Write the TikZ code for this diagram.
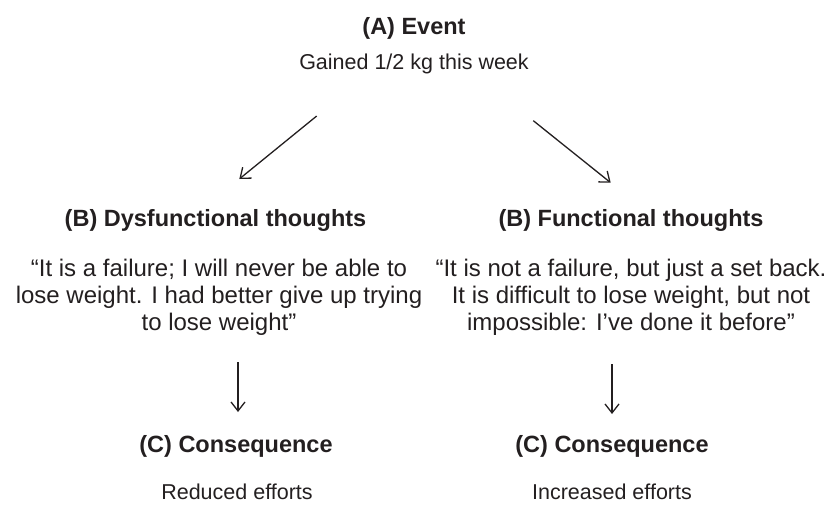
\documentclass[tikz,border=0pt]{standalone}
\usepackage{fontspec}
\setmainfont{Liberation Sans}
\usetikzlibrary{arrows.meta}
\definecolor{ink}{HTML}{231F20}
\begin{document}
\begin{tikzpicture}[x=1pt,y=-1pt,
  head/.style={font=\fontsize{23.5}{26.7}\selectfont\bfseries, text=ink, inner sep=0pt, anchor=base},
  body/.style={font=\fontsize{21.5}{26.7}\selectfont, text=ink, inner sep=0pt, anchor=base},
  quote/.style={font=\fontsize{24}{26.7}\selectfont, text=ink, inner sep=0pt, align=center, anchor=base},
  arr/.style={-{Straight Barb[length=9pt,width=14pt]}, line width=1.3pt, ink}]
\useasboundingbox (0,0) rectangle (827,504);
\node[head] (A) at (414,34) {(A) Event};
\node[body] (Ab) at (414,69) {Gained 1/2 kg this week};
\coordinate (l1) at (316.7,116);
\coordinate (l2) at (239.3,179);
\coordinate (r1) at (533.3,120.7);
\coordinate (r2) at (610.7,182.7);
\draw[arr] (l1) -- (l2);
\draw[arr] (r1) -- (r2);
\node[head] (B1) at (215.5,226) {(B) Dysfunctional thoughts};
\node[head] (B2) at (631,226) {(B) Functional thoughts};
\node[quote] (Q1) at (219,330) {``It is a failure; I will never be able to\\lose weight. I had better give up trying\\to lose weight''};
\node[quote] (Q2) at (631,330) {``It is not a failure, but just a set back.\\It is difficult to lose weight, but not\\impossible: I’ve done it before''};
\coordinate (d1) at (238,362);
\coordinate (d2) at (238,412);
\coordinate (e1) at (612,364);
\coordinate (e2) at (612,414);
\draw[arr] (d1) -- (d2);
\draw[arr] (e1) -- (e2);
\node[head] (C1) at (236,452) {(C) Consequence};
\node[head] (C2) at (612,452) {(C) Consequence};
\node[body] (R1) at (237,499) {Reduced efforts};
\node[body] (R2) at (612,499) {Increased efforts};
\end{tikzpicture}
\end{document}
